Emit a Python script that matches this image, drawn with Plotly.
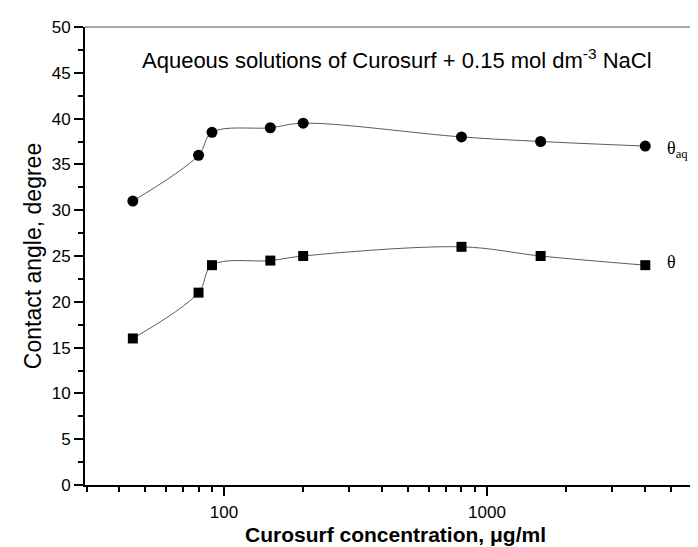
import math
import plotly.graph_objects as go

# Data
conc = [45, 80, 90, 150, 200, 800, 1600, 4000]
theta_aq = [31, 36, 38.5, 39, 39.5, 38, 37.5, 37]
theta = [16, 21, 24, 24.5, 25, 26, 25, 24]
x_tick_vals = [100, 1000]
x_tick_text = ["100", "1000"]
y_tick_vals = [0, 5, 10, 15, 20, 25, 30, 35, 40, 45, 50]

fig = go.Figure()
fig.add_trace(go.Scatter(
    x=conc, y=theta_aq, mode="lines+markers",
    line=dict(color="#5a5a5a", width=1, shape="spline", smoothing=1.0),
    marker=dict(symbol="circle", size=11, color="black"),
    showlegend=False))
fig.add_trace(go.Scatter(
    x=conc, y=theta, mode="lines+markers",
    line=dict(color="#5a5a5a", width=1, shape="spline", smoothing=1.0),
    marker=dict(symbol="square", size=10, color="black"),
    showlegend=False))

fig.add_annotation(x=math.log10(4750), y=36.6, xref="x", yref="y",
                   text="θ<sub>aq</sub>", showarrow=False, xanchor="left",
                   font=dict(family="Liberation Serif", size=18, color="black"))
fig.add_annotation(x=math.log10(4750), y=24.3, xref="x", yref="y",
                   text="θ", showarrow=False, xanchor="left",
                   font=dict(family="Liberation Serif", size=18, color="black"))
fig.add_annotation(x=(389 - 77) / (698 - 77), y=46.5, xref="paper", yref="y",
                   text="Aqueous solutions of Curosurf + 0.15 mol dm<sup>-3</sup> NaCl",
                   showarrow=False, xanchor="center", yanchor="middle",
                   font=dict(family="Liberation Sans", size=22, color="black"))

fig.update_layout(
    width=698, height=547,
    margin=dict(l=77, r=0, t=19, b=70),
    paper_bgcolor="white", plot_bgcolor="white",
    font=dict(family="Liberation Sans", color="black"),
    xaxis=dict(type="log", range=[math.log10(29.6), 3.833],
               tickvals=x_tick_vals, ticktext=x_tick_text,
               ticks="outside", ticklen=9, tickwidth=2, tickcolor="black",
               minor=dict(ticks="outside", ticklen=5, tickwidth=2, tickcolor="black", dtick="D1"),
               showline=True, linecolor="black", linewidth=2, mirror=False,
               showgrid=False, zeroline=False,
               tickfont=dict(size=17), ticklabelstandoff=2,
               title=dict(text="<b>Curosurf concentration, μg/ml</b>", font=dict(size=21), standoff=6)),
    yaxis=dict(range=[0, 50], tickvals=y_tick_vals,
               ticks="outside", ticklen=9, tickwidth=2, tickcolor="black",
               minor=dict(ticks="outside", ticklen=5, tickwidth=2, tickcolor="black", dtick=2.5),
               showline=True, linecolor="black", linewidth=2,
               showgrid=False, zeroline=False,
               tickfont=dict(size=17),
               title=dict(text="Contact angle, degree", font=dict(size=23), standoff=4)),
)
fig.add_shape(type="line", xref="paper", yref="paper", x0=0, x1=1, y0=1, y1=1,
              line=dict(color="#555555", width=1))

fig.write_html("out.html")
